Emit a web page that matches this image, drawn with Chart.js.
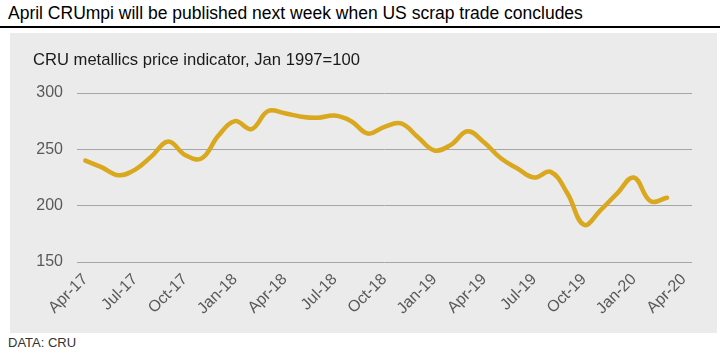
<!DOCTYPE html>
<html>
<head>
    <meta charset="UTF-8" />
    <title>CRUmpi</title>
    <script src="https://cdn.jsdelivr.net/npm/chart.js"></script>
    <style>
        body { margin: 0; width: 728px; height: 354px; background: #fff; position: relative; font-family: 'Liberation Sans', Arial, sans-serif; overflow: hidden; }
        #title { position: absolute; left: 8px; top: 5px; font-size: 17.5px; line-height: 1; color: #000; white-space: nowrap; }
        #rule { position: absolute; left: 0; top: 26px; width: 720px; height: 2px; background: #000; }
        #panel { position: absolute; left: 10px; top: 33px; width: 707px; height: 300px; background: #ebebeb; }
        #sub { position: absolute; left: 23px; top: 19px; font-size: 16.6px; line-height: 1; color: #1a1a1a; white-space: nowrap; }
        #source { position: absolute; left: 8px; top: 336px; font-size: 13px; line-height: 1; color: #333; }
        #chart { position: absolute; left: 0; top: 0; }
    </style>
</head>
<body>
    <div id="title">April CRUmpi will be published next week when US scrap trade concludes</div>
    <div id="rule"></div>
    <div id="panel">
        <canvas id="chart" width="707" height="300"></canvas>
        <div id="sub">CRU metallics price indicator, Jan 1997=100</div>
    </div>
    <div id="source">DATA: CRU</div>

    <script>
        // monthly, Apr-17 .. Apr-20 (last month not published yet)
        const months = [
            'Apr-17', 'May-17', 'Jun-17', 'Jul-17', 'Aug-17', 'Sep-17', 'Oct-17', 'Nov-17', 'Dec-17',
            'Jan-18', 'Feb-18', 'Mar-18', 'Apr-18', 'May-18', 'Jun-18', 'Jul-18', 'Aug-18', 'Sep-18',
            'Oct-18', 'Nov-18', 'Dec-18', 'Jan-19', 'Feb-19', 'Mar-19', 'Apr-19', 'May-19', 'Jun-19',
            'Jul-19', 'Aug-19', 'Sep-19', 'Oct-19', 'Nov-19', 'Dec-19', 'Jan-20', 'Feb-20', 'Mar-20',
            'Apr-20'
        ];
        const crumpi = [
            240, 234, 227, 232, 244, 257, 245, 242, 262,
            275, 268, 284, 282, 279, 278, 280, 275, 264,
            270, 273, 261, 249, 254, 266, 256, 242, 233,
            225, 230, 211, 183, 196, 211, 225, 204, 207,
            null
        ];
        const yTicks = [150, 200, 250, 300];

        const ctx = document.getElementById('chart');
        const chart = new Chart(ctx, {
            type: 'line',
            data: {
                labels: months,
                datasets: [{
                    label: 'CRUmpi',
                    data: crumpi,
                    borderColor: '#d9a81e',
                    borderWidth: 4.5,
                    borderCapStyle: 'round',
                    borderJoinStyle: 'round',
                    tension: 0.4,
                    pointRadius: 0,
                    fill: false
                }]
            },
            options: {
                responsive: false,
                animation: false,
                layout: { padding: { left: 0, right: 25, top: 60, bottom: 0 } },
                plugins: { legend: { display: false }, tooltip: { enabled: false } },
                scales: {
                    x: {
                        offset: true,
                        grid: { display: false, drawTicks: false },
                        border: { display: false },
                        ticks: {
                            autoSkip: false,
                            minRotation: 45,
                            maxRotation: 45,
                            padding: 8,
                            color: '#595959',
                            font: { family: "'Liberation Sans', Arial", size: 16 },
                            callback: function (val, i) {
                                return i % 3 === 0 ? this.getLabelForValue(val) : null;
                            }
                        },
                        afterFit: function (scale) { scale.height = 71; }
                    },
                    y: {
                        min: yTicks[0],
                        max: yTicks[yTicks.length - 1],
                        grid: { color: '#a6a6a6', lineWidth: 1, drawTicks: false },
                        border: { display: false },
                        afterBuildTicks: function (scale) {
                            scale.ticks = yTicks.map(v => ({ value: v }));
                        },
                        ticks: {
                            padding: 14,
                            color: '#595959',
                            font: { family: "'Liberation Sans', Arial", size: 16 }
                        },
                        afterFit: function (scale) { scale.width = 67; }
                    }
                }
            }
        });
    </script>
</body>
</html>
